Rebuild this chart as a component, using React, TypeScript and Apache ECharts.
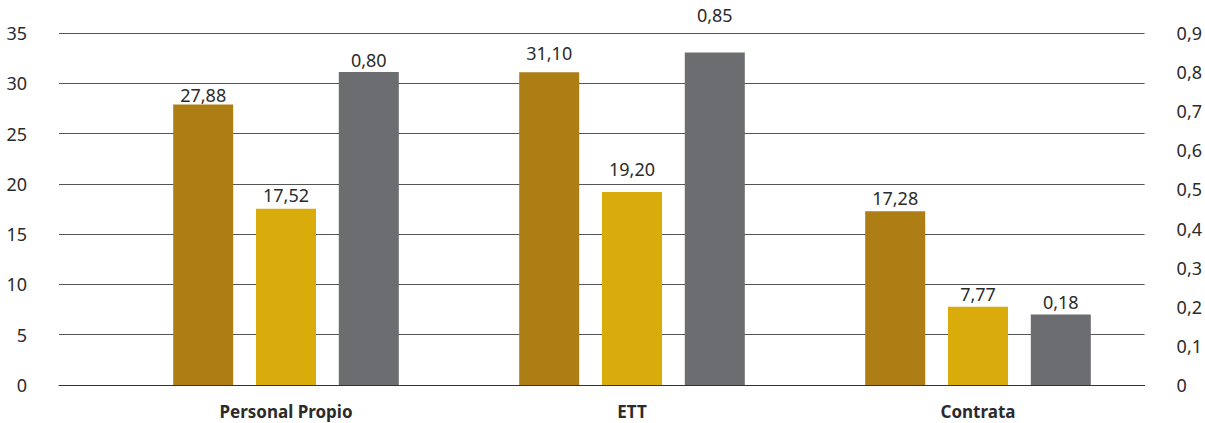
import React, { useEffect, useRef } from "react";
import * as echarts from "echarts";

const categories = ["Personal Propio", "ETT", "Contrata"];
const seriesBrown = [27.88, 31.1, 17.28];
const seriesGold = [17.52, 19.2, 7.77];
const seriesGray = [0.8, 0.85, 0.18];
const leftTicks = { min: 0, max: 35, interval: 5 };
const rightTicks = { min: 0, max: 0.9, interval: 0.1 };

const FONT = "Noto Sans";
const fmt = (v: number) => v.toFixed(2).replace(".", ",");

// label placement style (distance above bar, px) per series/category
const LABEL_DIST = {
  brown: [1, 10, 4],
  gold: [5, 14, 4],
  gray: [3, 29, 4],
};

export default function App() {
  const ref = useRef<HTMLDivElement>(null);
  useEffect(() => {
    document.body.style.margin = "0";
    const chart = echarts.init(ref.current!, null, { renderer: "svg" });
    const labelStyle = {
      show: true,
      position: "top" as const,
      color: "#2b2b2b",
      fontSize: 18,
      fontFamily: FONT,
      formatter: (p: any) => fmt(p.value),
    };
    const build = (vals: number[], dists: number[]) =>
      vals.map((v, i) => ({ value: v, label: { distance: dists[i] } }));
    chart.setOption({
      animation: false,
      backgroundColor: "#ffffff",
      textStyle: { fontFamily: FONT },
      grid: [
        { left: 59, right: 60, top: 33, bottom: 38 },
        { left: 113, right: 54, top: 33, bottom: 38 },
      ],
      xAxis: [
        {
          type: "category",
          gridIndex: 0,
          data: categories,
          axisLine: { show: true, lineStyle: { color: "#333", width: 1 } },
          axisTick: { show: false },
          axisLabel: { show: false },
        },
        {
          type: "category",
          gridIndex: 1,
          data: categories,
          axisLine: { show: false },
          axisTick: { show: false },
          axisLabel: {
            show: true,
            margin: 18,
            color: "#2b2b2b",
            fontSize: 17,
            fontWeight: "bold",
            fontFamily: FONT,
          },
        },
      ],
      yAxis: [
        {
          type: "value",
          gridIndex: 0,
          position: "left",
          ...leftTicks,
          axisLine: { show: false },
          axisTick: { show: false },
          splitLine: { show: true, lineStyle: { color: "#555", width: 1 } },
          axisLabel: { margin: 32, color: "#2b2b2b", fontSize: 18, fontFamily: FONT },
        },
        {
          type: "value",
          gridIndex: 0,
          position: "right",
          ...rightTicks,
          axisLine: { show: false },
          axisTick: { show: false },
          splitLine: { show: false },
          axisLabel: {
            margin: 32,
            color: "#2b2b2b",
            fontSize: 18,
            fontFamily: FONT,
            formatter: (v: number) => (v === 0 ? "0" : v.toFixed(1).replace(".", ",")),
          },
        },
        {
          type: "value",
          gridIndex: 1,
          ...leftTicks,
          show: false,
          splitLine: { show: false },
        },
        {
          type: "value",
          gridIndex: 1,
          ...rightTicks,
          show: false,
          splitLine: { show: false },
        },
      ],
      series: [
        {
          type: "bar",
          xAxisIndex: 1,
          yAxisIndex: 2,
          data: build(seriesBrown, LABEL_DIST.brown),
          barWidth: 60,
          barGap: "38%",
          itemStyle: { color: "#AD7E14" },
          label: labelStyle,
        },
        {
          type: "bar",
          xAxisIndex: 1,
          yAxisIndex: 2,
          data: build(seriesGold, LABEL_DIST.gold),
          barWidth: 60,
          barGap: "38%",
          itemStyle: { color: "#D9AC0C" },
          label: labelStyle,
        },
        {
          type: "bar",
          xAxisIndex: 1,
          yAxisIndex: 3,
          data: build(seriesGray, LABEL_DIST.gray),
          barWidth: 60,
          barGap: "38%",
          itemStyle: { color: "#6C6D71" },
          label: labelStyle,
        },
      ],
    });
    return () => chart.dispose();
  }, []);
  return (
    <div
      ref={ref}
      style={{ position: "absolute", left: 0, top: 0, width: 1205, height: 423 }}
    />
  );
}
